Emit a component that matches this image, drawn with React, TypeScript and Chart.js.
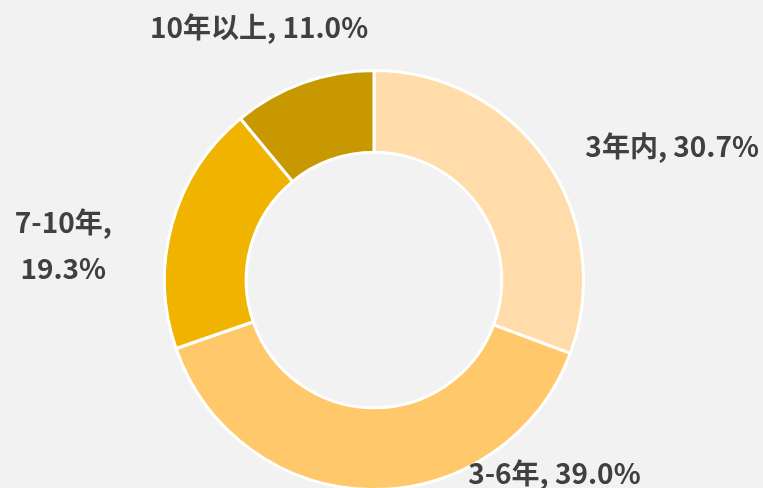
import React, { useEffect, useRef } from "react";
import { Chart, registerables } from "chart.js";

Chart.register(...registerables);

const categories = ["3年内", "3-6年", "7-10年", "10年以上"];
const shares = [30.7, 39.0, 19.3, 11.0];
const valueLabels = ["30.7%", "39.0%", "19.3%", "11.0%"];
const colors = ["#FFDCA9", "#FFC96B", "#F0B400", "#C89800"];

// label offsets relative to the mid-point of each arc's outer edge (layout only)
const labelLayout = [
  { dx: 126, dy: -14, lines: 1 },
  { dx: 183, dy: -16, lines: 1 },
  { dx: -109, dy: 22, lines: 2 },
  { dx: -44, dy: -56, lines: 1 },
];

const labelPlugin = {
  id: "outerLabels",
  afterDatasetsDraw(chart: any) {
    const ctx = chart.ctx;
    const meta = chart.getDatasetMeta(0);
    ctx.save();
    ctx.fillStyle = "#404040";
    ctx.font = 'bold 28px "Noto Sans CJK SC", "Noto Sans", sans-serif';
    ctx.textAlign = "center";
    ctx.textBaseline = "middle";
    meta.data.forEach((arc: any, i: number) => {
      const p = arc.getProps(["x", "y", "startAngle", "endAngle", "outerRadius"], true);
      const mid = (p.startAngle + p.endAngle) / 2;
      const ax = p.x + Math.cos(mid) * p.outerRadius;
      const ay = p.y + Math.sin(mid) * p.outerRadius;
      const L = labelLayout[i];
      const x = ax + L.dx;
      const y = ay + L.dy;
      if (L.lines === 2) {
        ctx.fillText(categories[i] + ",", x, y - 23);
        ctx.fillText(valueLabels[i], x, y + 23);
      } else {
        ctx.fillText(categories[i] + ", " + valueLabels[i], x, y);
      }
    });
    ctx.restore();
  },
};

export default function App() {
  const ref = useRef<HTMLCanvasElement>(null);
  useEffect(() => {
    if (!ref.current) return;
    const chart = new Chart(ref.current, {
      type: "doughnut",
      data: {
        labels: categories,
        datasets: [
          {
            data: shares,
            backgroundColor: colors,
            borderColor: "#FFFFFF",
            borderWidth: 3,
          },
        ],
      },
      options: {
        responsive: false,
        animation: false,
        devicePixelRatio: 1,
        cutout: "61%",
        layout: { padding: { top: 69, bottom: 9, left: 0, right: 15 } },
        plugins: {
          legend: { display: false },
          tooltip: { enabled: false },
        },
      },
      plugins: [labelPlugin],
    });
    return () => chart.destroy();
  }, []);
  return (
    <div
      style={{
        position: "fixed",
        left: 0,
        top: 0,
        width: 763,
        height: 488,
        overflow: "hidden",
        background: "#F2F2F2",
      }}
    >
      <canvas ref={ref} width={763} height={500} style={{ display: "block" }} />
    </div>
  );
}
